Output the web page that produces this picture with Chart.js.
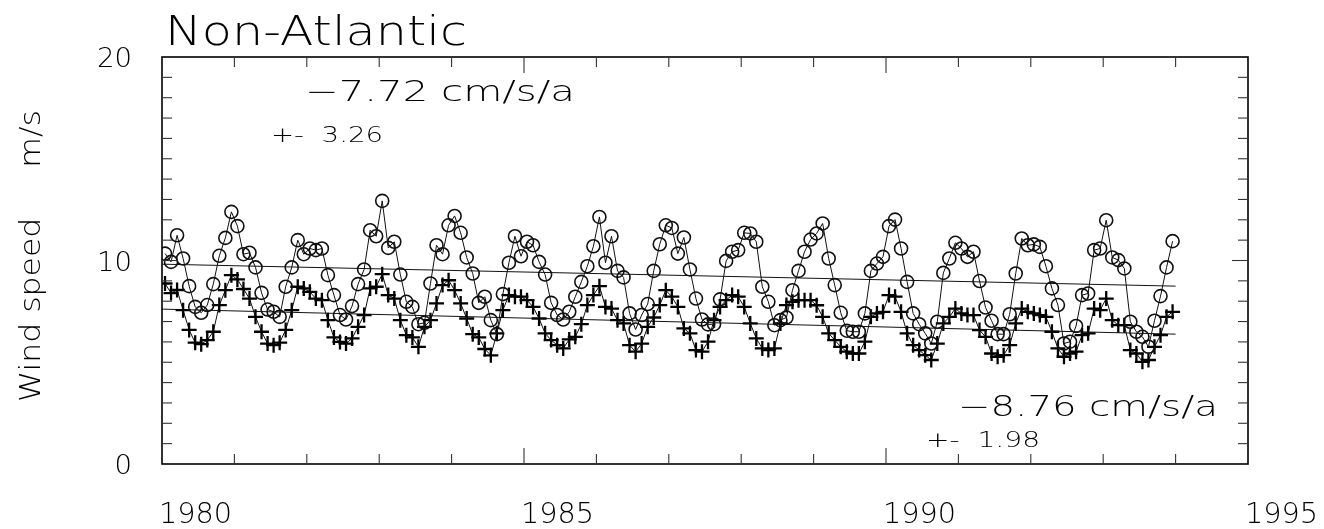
<!DOCTYPE html>
<html>
<head>
<meta charset="utf-8">
<script src="https://cdn.jsdelivr.net/npm/chart.js"></script>
<style>
  html,body{margin:0;padding:0;background:#fff;}
  #wrap{width:1324px;height:529px;}
</style>
</head>
<body>
<div id="wrap"><canvas id="windChart" width="1324" height="529"></canvas></div>
<script>
const TITLE = "Non-Atlantic";
const Y_TITLE = "Wind speed     m/s";
const START_YEAR = 1980;
const X_MIN = 1980, X_MAX = 1995;
const Y_MIN = 0, Y_MAX = 20;
const xTickLabels = [1980, 1985, 1990, 1995];
const yTickLabels = [0, 10, 20];

// monthly values, Jan 1980 .. Dec 1993 (m/s)
const circleSeries = [
  10.34, 9.93, 11.24, 10.10, 8.74, 7.72, 7.43, 7.81, 8.84, 10.23, 11.11, 12.39,
  11.69, 10.31, 10.38, 9.66, 8.41, 7.59, 7.48, 7.23, 8.71, 9.66, 11.00, 10.31,
  10.59, 10.51, 10.59, 9.28, 8.30, 7.32, 7.10, 7.76, 8.84, 9.56, 11.49, 11.19,
  12.93, 10.62, 10.92, 9.31, 7.97, 7.72, 6.87, 6.94, 8.87, 10.75, 10.31, 11.73,
  12.19, 11.36, 10.15, 9.36, 7.92, 8.22, 7.07, 6.38, 8.35, 9.89, 11.19, 10.21,
  10.92, 10.75, 9.93, 9.31, 7.92, 7.32, 7.10, 7.48, 8.22, 8.95, 9.72, 10.70,
  12.14, 9.89, 11.19, 9.49, 9.17, 7.40, 6.61, 7.32, 7.86, 9.49, 10.80, 11.73,
  11.60, 10.34, 11.13, 9.56, 8.13, 7.10, 6.86, 6.87, 8.09, 9.98, 10.43, 10.51,
  11.36, 11.33, 10.92, 8.71, 7.97, 6.82, 7.07, 7.20, 8.54, 9.49, 10.43, 11.03,
  11.33, 11.82, 10.10, 8.79, 7.43, 6.55, 6.50, 6.50, 7.40, 9.49, 9.85, 10.18,
  11.69, 12.01, 10.59, 8.95, 7.40, 6.87, 6.42, 5.92, 6.99, 9.39, 10.10, 10.87,
  10.59, 10.18, 10.43, 8.99, 7.69, 7.04, 6.38, 6.38, 7.36, 9.36, 11.08, 10.75,
  10.79, 10.67, 9.72, 8.63, 7.81, 5.92, 6.01, 6.78, 8.30, 8.38, 10.51, 10.59,
  11.98, 10.15, 10.02, 9.61, 6.99, 6.50, 6.25, 5.76, 7.04, 8.25, 9.66, 10.95
];
const plusSeries = [
  8.87, 8.40, 8.55, 7.56, 6.59, 5.96, 5.89, 6.09, 6.50, 7.81, 8.54, 9.28,
  9.07, 8.60, 8.13, 7.23, 6.50, 5.92, 5.84, 5.96, 6.59, 7.56, 8.71, 8.63,
  8.46, 8.13, 8.05, 7.07, 6.22, 6.00, 5.92, 6.17, 6.74, 7.32, 8.63, 8.71,
  9.33, 8.30, 8.13, 7.07, 6.33, 6.22, 5.76, 6.74, 7.07, 7.89, 8.79, 9.03,
  8.54, 7.89, 7.15, 6.38, 6.22, 5.65, 5.34, 6.42, 7.56, 8.30, 8.22, 8.22,
  8.05, 7.72, 7.15, 6.42, 6.09, 5.84, 5.68, 6.12, 6.25, 6.87, 7.81, 8.30,
  8.74, 7.72, 7.64, 7.07, 6.91, 5.84, 5.52, 5.92, 6.74, 7.20, 7.81, 8.54,
  8.22, 7.72, 6.66, 6.42, 5.60, 5.52, 6.01, 7.07, 7.72, 8.05, 8.30, 8.22,
  7.72, 6.91, 6.17, 5.68, 5.60, 5.68, 6.91, 7.81, 7.97, 8.05, 8.05, 8.05,
  7.80, 7.23, 6.42, 6.09, 5.76, 5.52, 5.43, 5.43, 6.01, 7.23, 7.40, 7.48,
  8.30, 8.22, 7.48, 6.42, 5.84, 5.60, 5.35, 5.11, 5.92, 6.91, 7.23, 7.64,
  7.40, 7.32, 7.32, 6.58, 6.25, 5.43, 5.27, 5.35, 5.84, 6.91, 7.64, 7.48,
  7.40, 7.32, 7.23, 6.50, 5.68, 5.27, 5.43, 5.52, 6.33, 6.42, 7.64, 7.56,
  8.13, 7.07, 6.82, 6.82, 5.60, 5.43, 5.02, 5.11, 5.76, 6.33, 7.23, 7.48
];
// linear trends: end years and values
const trendYears = [1980.0, 1994.0];
const trendUpper = [9.82, 8.74];
const trendLower = [7.61, 6.38];
const upperNote = ["\u22127.72 cm/s/a", "+-  3.26"];
const lowerNote = ["\u22128.76 cm/s/a", "+-  1.98"];

const FONT = '"DejaVu Sans", "Liberation Sans", sans-serif';
const toPoints = arr => arr.map((v, i) => ({x: START_YEAR + (i + 0.5) / 12, y: v}));
const trendPoints = vals => vals.map((v, i) => ({x: trendYears[i], y: v}));

function fitText(ctx, text, x, y, w, align, size){
  ctx.font = "200 " + size + "px " + FONT;
  const m = ctx.measureText(text).width;
  ctx.save();
  ctx.translate(x, y);
  ctx.scale(w / m, 1);
  ctx.textAlign = align;
  ctx.fillText(text, 0, 0);
  ctx.restore();
}

const framePlugin = {
  id: "frame",
  afterDraw(chart){
    const {ctx, chartArea: a, scales: {x, y}} = chart;
    ctx.save();
    ctx.strokeStyle = "#000";
    ctx.fillStyle = "#000";
    ctx.lineWidth = 1.6;
    ctx.strokeRect(a.left, a.top, a.right - a.left, a.bottom - a.top);
    ctx.lineWidth = 1.1;
    ctx.strokeStyle = "#333";
    const seg = (x1, y1, x2, y2) => { ctx.beginPath(); ctx.moveTo(x1, y1); ctx.lineTo(x2, y2); ctx.stroke(); };
    for (let yr = X_MIN + 1; yr < X_MAX; yr++){
      const px = x.getPixelForValue(yr), len = yr % 5 === 0 ? 16 : 10;
      seg(px, a.bottom, px, a.bottom - len);
      seg(px, a.top, px, a.top + len);
    }
    for (let v = Y_MIN + 1; v < Y_MAX; v++){
      const py = y.getPixelForValue(v), len = v % 10 === 0 ? 16 : 10;
      seg(a.left, py, a.left + len, py);
      seg(a.right, py, a.right - len, py);
    }
    ctx.textBaseline = "alphabetic";
    // x tick labels
    xTickLabels.forEach(t => fitText(ctx, String(t), x.getPixelForValue(t) - 3, 523, 73, "left", 28));
    // y tick labels
    yTickLabels.forEach(t => {
      const s = String(t);
      fitText(ctx, s, 132, y.getPixelForValue(t) + 10, 17.5 * s.length, "right", 27);
    });
    // title
    fitText(ctx, TITLE, 165, 45, 302, "left", 41);
    // y axis title
    ctx.save();
    ctx.translate(40, 256);
    ctx.rotate(-Math.PI / 2);
    fitText(ctx, Y_TITLE, 0, 0, 292, "center", 29);
    ctx.restore();
    // trend notes
    fitText(ctx, upperNote[0], 305, 101, 270, "left", 28);
    fitText(ctx, upperNote[1], 271, 142, 112, "left", 21);
    fitText(ctx, lowerNote[0], 958, 416, 260, "left", 28);
    fitText(ctx, lowerNote[1], 926, 447, 114, "left", 21);
    ctx.restore();
  }
};

new Chart(document.getElementById("windChart"), {
  type: "line",
  data: {
    datasets: [
      {data: toPoints(circleSeries), borderColor: "#111", borderWidth: 1, tension: 0,
       pointStyle: "circle", pointRadius: 6.5, pointBorderWidth: 1.6, pointBorderColor: "#111",
       pointBackgroundColor: "rgba(0,0,0,0)"},
      {data: toPoints(plusSeries), borderColor: "#111", borderWidth: 1, tension: 0,
       pointStyle: "cross", pointRadius: 7.5, pointBorderWidth: 2.3, pointBorderColor: "#000"},
      {data: trendPoints(trendUpper), borderColor: "#111", borderWidth: 1, pointRadius: 0},
      {data: trendPoints(trendLower), borderColor: "#111", borderWidth: 1, pointRadius: 0}
    ]
  },
  options: {
    responsive: false,
    animation: false,
    layout: {padding: {left: 162, right: 76, top: 57, bottom: 65}},
    plugins: {legend: {display: false}, tooltip: {enabled: false}},
    scales: {
      x: {type: "linear", min: X_MIN, max: X_MAX, display: false},
      y: {type: "linear", min: Y_MIN, max: Y_MAX, display: false}
    }
  },
  plugins: [framePlugin]
});
</script>
</body>
</html>
